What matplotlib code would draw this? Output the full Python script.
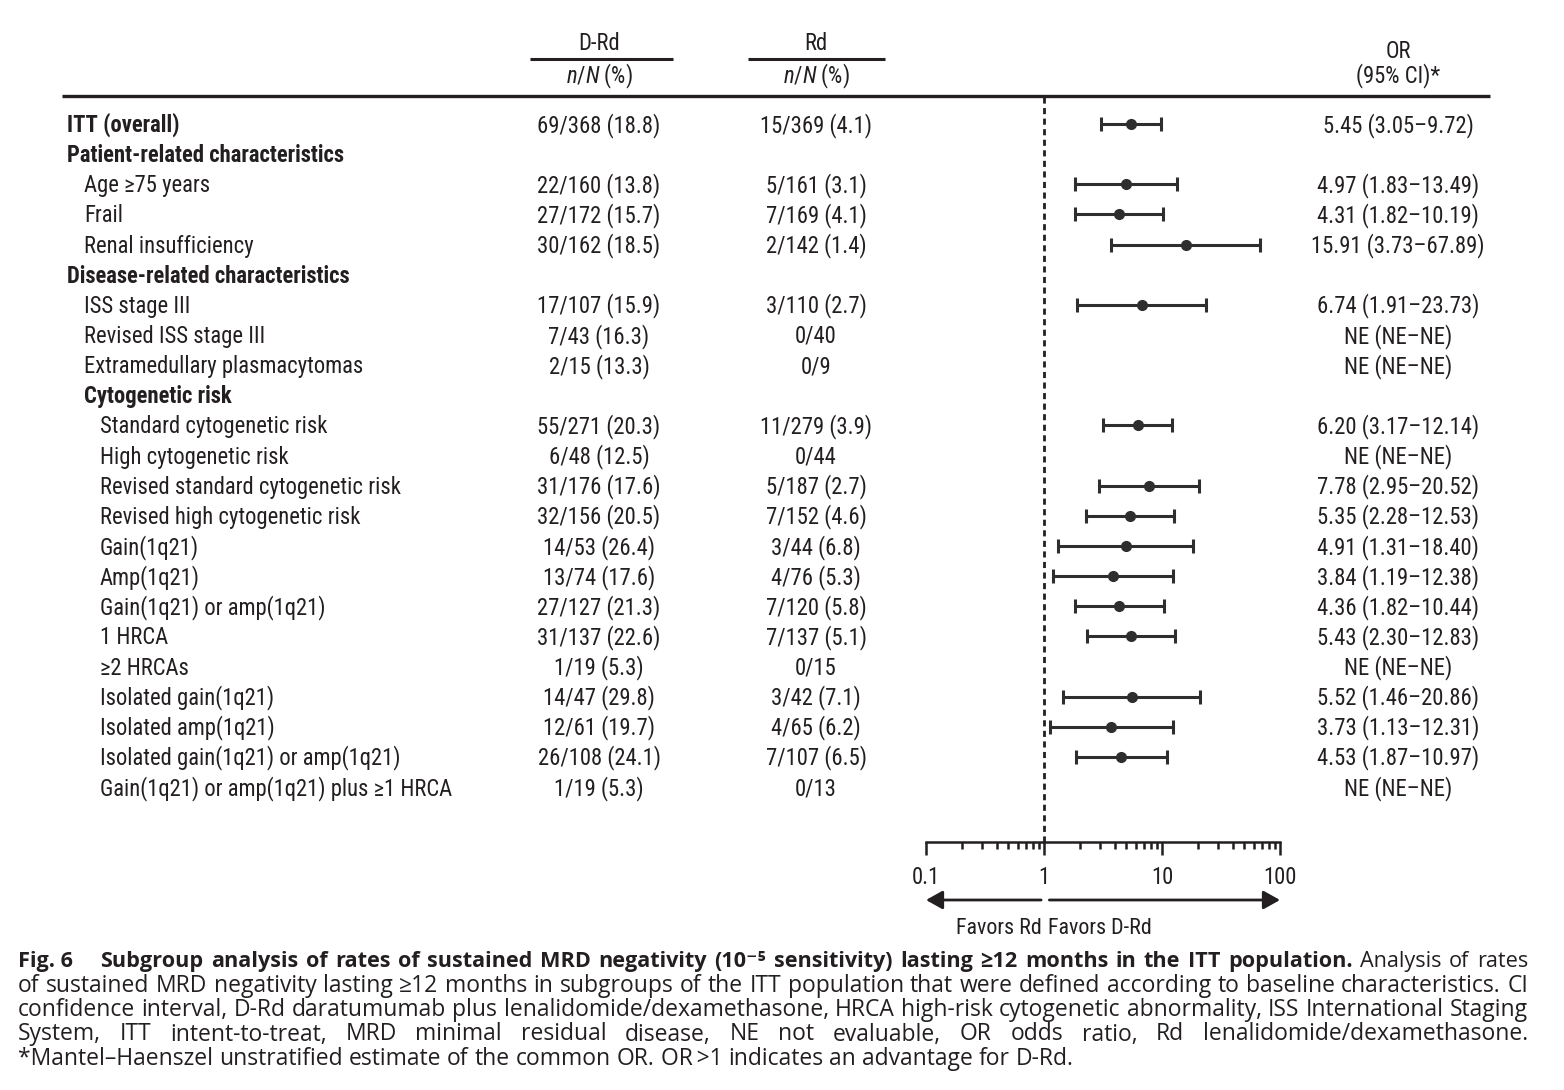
import matplotlib
matplotlib.use("Agg")
import matplotlib.pyplot as plt
from matplotlib import font_manager
from matplotlib.ticker import FixedLocator, NullFormatter
import numpy as np

# ---------------- data ----------------
labels = ["ITT (overall)", "Patient-related characteristics", "Age \u226575 years", "Frail",
          "Renal insufficiency", "Disease-related characteristics", "ISS stage III",
          "Revised ISS stage III", "Extramedullary plasmacytomas", "Cytogenetic risk",
          "Standard cytogenetic risk", "High cytogenetic risk", "Revised standard cytogenetic risk",
          "Revised high cytogenetic risk", "Gain(1q21)", "Amp(1q21)", "Gain(1q21) or amp(1q21)",
          "1 HRCA", "\u22652 HRCAs", "Isolated gain(1q21)", "Isolated amp(1q21)",
          "Isolated gain(1q21) or amp(1q21)", "Gain(1q21) or amp(1q21) plus \u22651 HRCA"]
levels = [0, 0, 1, 1, 1, 0, 1, 1, 1, 1, 2, 2, 2, 2, 2, 2, 2, 2, 2, 2, 2, 2, 2]
bold_rows = [0, 1, 5, 9]
drd_text = ["69/368 (18.8)", "", "22/160 (13.8)", "27/172 (15.7)", "30/162 (18.5)", "",
            "17/107 (15.9)", "7/43 (16.3)", "2/15 (13.3)", "", "55/271 (20.3)", "6/48 (12.5)",
            "31/176 (17.6)", "32/156 (20.5)", "14/53 (26.4)", "13/74 (17.6)", "27/127 (21.3)",
            "31/137 (22.6)", "1/19 (5.3)", "14/47 (29.8)", "12/61 (19.7)", "26/108 (24.1)",
            "1/19 (5.3)"]
rd_text = ["15/369 (4.1)", "", "5/161 (3.1)", "7/169 (4.1)", "2/142 (1.4)", "",
           "3/110 (2.7)", "0/40", "0/9", "", "11/279 (3.9)", "0/44", "5/187 (2.7)",
           "7/152 (4.6)", "3/44 (6.8)", "4/76 (5.3)", "7/120 (5.8)", "7/137 (5.1)", "0/15",
           "3/42 (7.1)", "4/65 (6.2)", "7/107 (6.5)", "0/13"]
or_est = [5.45, None, 4.97, 4.31, 15.91, None, 6.74, None, None, None, 6.20, None, 7.78,
          5.35, 4.91, 3.84, 4.36, 5.43, None, 5.52, 3.73, 4.53, None]
or_lo = [3.05, None, 1.83, 1.82, 3.73, None, 1.91, None, None, None, 3.17, None, 2.95,
         2.28, 1.31, 1.19, 1.82, 2.30, None, 1.46, 1.13, 1.87, None]
or_hi = [9.72, None, 13.49, 10.19, 67.89, None, 23.73, None, None, None, 12.14, None, 20.52,
         12.53, 18.40, 12.38, 10.44, 12.83, None, 20.86, 12.31, 10.97, None]
or_text = ["5.45 (3.05\u20139.72)", "", "4.97 (1.83\u201313.49)", "4.31 (1.82\u201310.19)",
           "15.91 (3.73\u201367.89)", "", "6.74 (1.91\u201323.73)", "NE (NE\u2013NE)",
           "NE (NE\u2013NE)", "", "6.20 (3.17\u201312.14)", "NE (NE\u2013NE)",
           "7.78 (2.95\u201320.52)", "5.35 (2.28\u201312.53)", "4.91 (1.31\u201318.40)",
           "3.84 (1.19\u201312.38)", "4.36 (1.82\u201310.44)", "5.43 (2.30\u201312.83)",
           "NE (NE\u2013NE)", "5.52 (1.46\u201320.86)", "3.73 (1.13\u201312.31)",
           "4.53 (1.87\u201310.97)", "NE (NE\u2013NE)"]
x_ticks = [0.1, 1, 10, 100]
x_ticklabels = ["0.1", "1", "10", "100"]

caption_lines = [
    [("Fig. 6", "bold"),
     ("Subgroup analysis of rates of sustained MRD negativity (10\u207b\u2075 sensitivity) lasting \u226512 months in the ITT population.", "bold"),
     ("Analysis of rates", "normal")],
    [("of sustained MRD negativity lasting \u226512 months in subgroups of the ITT population that were defined according to baseline characteristics. CI", "normal")],
    [("confidence interval, D-Rd daratumumab plus lenalidomide/dexamethasone, HRCA high-risk cytogenetic abnormality, ISS International Staging", "normal")],
    [("System, ITT intent-to-treat, MRD minimal residual disease, NE not evaluable, OR odds ratio, Rd lenalidomide/dexamethasone.", "normal")],
    [("*Mantel\u2013Haenszel unstratified estimate of the common OR. OR\u2009>1 indicates an advantage for D-Rd.", "normal")],
]

# ---------------- fonts ----------------
installed = {f.name for f in font_manager.fontManager.ttflist}
def pick(*names):
    for n in names:
        if n in installed:
            return n
    return "DejaVu Sans"
TFONT = pick("Liberation Sans Narrow", "Roboto Condensed", "Liberation Sans")
CFONT = pick("Open Sans", "Lato", "Noto Sans")
plt.rcParams["font.family"] = [TFONT, "DejaVu Sans"]
plt.rcParams["mathtext.fontset"] = "custom"
plt.rcParams["mathtext.rm"] = TFONT
plt.rcParams["mathtext.it"] = TFONT + ":italic"

TXT = "#231f20"
MARK = "#2e2e2e"
FS = 16.3

W, H = 1564, 1090
fig = plt.figure(figsize=(W / 100, H / 100), dpi=100)
base = fig.add_axes([0, 0, 1, 1])
base.set_xlim(0, W)
base.set_ylim(H, 0)
base.axis("off")

# layout
y0, dy = 124, 30.14
row_y = [y0 + i * dy for i in range(len(labels))]
indent = {0: 67, 1: 84, 2: 100}
x_drd, x_rd, x_or = 599, 816, 1398

# headers
base.text(x_drd, 44, "D-Rd", ha="center", va="center", fontsize=FS, color=TXT)
base.text(x_rd, 44, "Rd", ha="center", va="center", fontsize=FS, color=TXT)
base.plot([530, 673], [59, 59], color=TXT, lw=2.2, solid_capstyle="butt")
base.plot([748, 885], [59, 59], color=TXT, lw=2.2, solid_capstyle="butt")
base.text(x_drd, 76, "$n/N$ (%)", ha="center", va="center", fontsize=FS, color=TXT)
base.text(x_rd, 76, "$n/N$ (%)", ha="center", va="center", fontsize=FS, color=TXT)
base.text(x_or, 51, "OR", ha="center", va="center", fontsize=FS, color=TXT)
base.text(x_or, 76, "(95% CI)*", ha="center", va="center", fontsize=FS, color=TXT)
base.plot([62, 1490], [96, 96], color=TXT, lw=2.4, solid_capstyle="butt")

# rows
for i, lab in enumerate(labels):
    yb = row_y[i] + 8
    base.text(indent[levels[i]], yb, lab, ha="left", va="baseline", fontsize=FS, color=TXT,
              fontweight="bold" if i in bold_rows else "normal")
    if drd_text[i]:
        base.text(x_drd, yb, drd_text[i], ha="center", va="baseline", fontsize=FS, color=TXT)
    if rd_text[i]:
        base.text(x_rd, yb, rd_text[i], ha="center", va="baseline", fontsize=FS, color=TXT)
    if or_text[i]:
        base.text(x_or, yb, or_text[i], ha="center", va="baseline", fontsize=FS, color=TXT)

# forest axes
fx0, fx1 = 926, 1280
ax = fig.add_axes([fx0 / W, 0, (fx1 - fx0) / W, 1])
ax.patch.set_alpha(0)
ax.set_xscale("log")
ax.set_xlim(0.1, 100)
ax.set_ylim(H, 0)
for s in ["top", "left", "right"]:
    ax.spines[s].set_visible(False)
ax.spines["bottom"].set_position(("data", 842))
ax.spines["bottom"].set_linewidth(1.8)
ax.spines["bottom"].set_color(TXT)
ax.xaxis.set_major_locator(FixedLocator(x_ticks))
ax.set_xticklabels(x_ticklabels)
minor = [m * d for d in [0.1, 1, 10] for m in range(2, 10)]
ax.xaxis.set_minor_locator(FixedLocator(minor))
ax.xaxis.set_minor_formatter(NullFormatter())
ax.tick_params(axis="x", which="major", direction="out", length=9.5, width=1.8,
               color=TXT, labelsize=FS, labelcolor=TXT, pad=8)
ax.tick_params(axis="x", which="minor", direction="out", length=5, width=1.8, color=TXT)
ax.set_yticks([])

ax.vlines(1, 97, 842, colors=TXT, lw=2.0, linestyles=(0, (2.2, 1.6)))

idx = [i for i in range(len(labels)) if or_est[i] is not None]
est = np.array([or_est[i] for i in idx])
lo = np.array([or_lo[i] for i in idx])
hi = np.array([or_hi[i] for i in idx])
ys = np.array([row_y[i] for i in idx])
ax.errorbar(est, ys, xerr=[est - lo, hi - est], fmt="o", ms=7, color=MARK, ecolor=MARK,
            elinewidth=2.2, capsize=5, capthick=2.2)

# arrows
ap = dict(arrowstyle="-|>,head_length=0.5,head_width=0.28", lw=2.0, color=TXT,
          shrinkA=0, shrinkB=0, mutation_scale=20)
ax.annotate("", xy=(0.1, 900), xytext=(0.945, 900), arrowprops=ap)
ax.annotate("", xy=(100, 900), xytext=(1.11, 900), arrowprops=ap)
base.text(1042, 928, "Favors Rd", ha="right", va="center", fontsize=FS - 0.5, color=TXT)
base.text(1048, 928, "Favors D-Rd", ha="left", va="center", fontsize=FS - 0.5, color=TXT)

# caption with justification
line_fs = [15.6, 16.5, 16.5, 16.5, 16.5]
renderer = fig.canvas.get_renderer()
cfam = [CFONT, "DejaVu Sans"]
def width(s, weight, fs):
    t = base.text(0, 0, s, fontsize=fs, fontweight=weight, family=cfam)
    w = t.get_window_extent(renderer).width
    t.remove()
    return w
left, right = 18, 1528
base_y = [967, 991.5, 1016, 1040.5, 1065]
for li, segs in enumerate(caption_lines):
    fs = line_fs[li]
    space_w = width("a a", "normal", fs) - width("aa", "normal", fs)
    words = []
    for k, (s, wgt) in enumerate(segs):
        if li == 0 and k == 0:
            words.append((s, wgt, 20))
        else:
            for wd in s.split(" "):
                words.append((wd, wgt, 0))
    ws = [width(w, g, fs) for w, g, _ in words]
    extra = sum(e for _, _, e in words)
    justify = li < len(caption_lines) - 1
    gap = (right - left - sum(ws) - extra) / (len(words) - 1) if justify else space_w
    x = left
    for (wd, g, e), wv in zip(words, ws):
        base.text(x, base_y[li], wd, ha="left", va="baseline", fontsize=fs, fontweight=g,
                  family=cfam, color=TXT)
        x += wv + gap + e

fig.savefig("out.png", dpi=100)
